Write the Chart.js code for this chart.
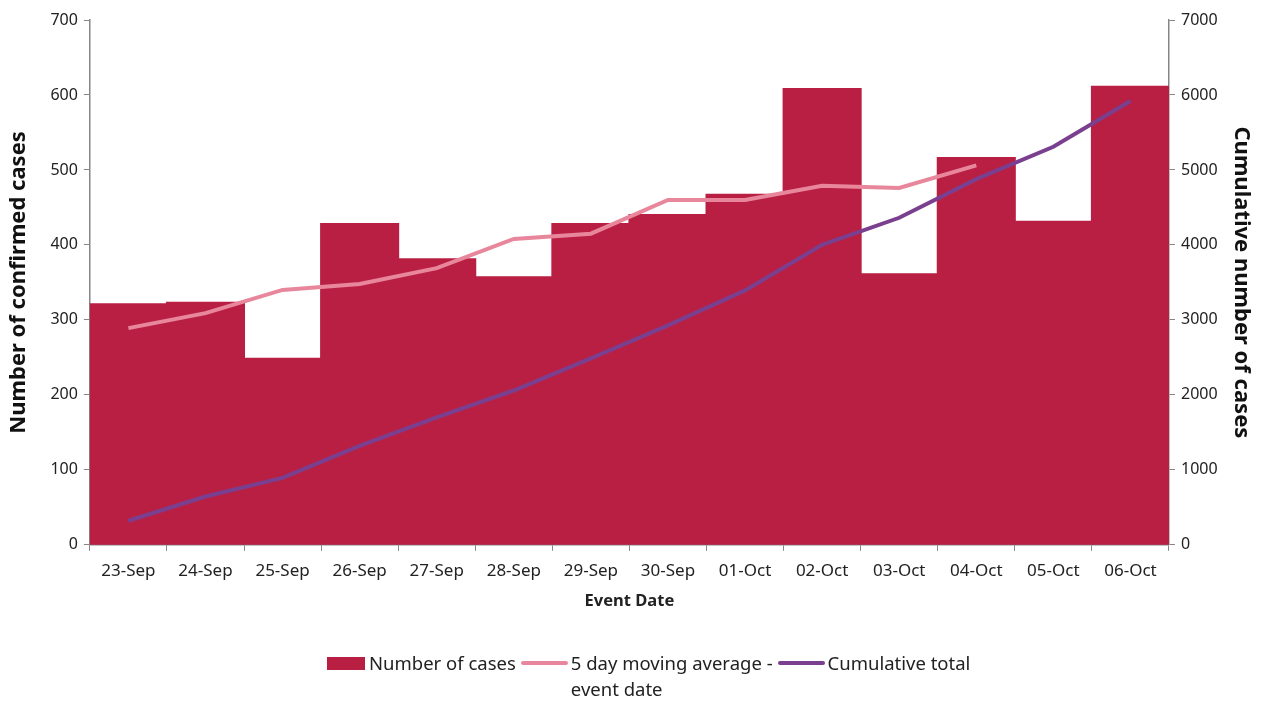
<!DOCTYPE html>
<html>
<head>
<meta charset="utf-8">
<script src="https://cdn.jsdelivr.net/npm/chart.js@4"></script>
<style>
  body { margin: 0; background: #fff; }
  #wrap { position: relative; width: 1272px; height: 704px; }
  #legend { position: absolute; top: 650px; left: 327px; display: flex; align-items: flex-start;
            font-family: "Noto Sans", sans-serif; font-size: 18.5px; color: #222; line-height: 26px; }
  .item { display: flex; align-items: flex-start; }
  .box { width: 38px; height: 13px; background: #b91f43; margin-top: 7px; margin-right: 4px; }
  .ln { width: 47px; height: 4px; border-radius: 2px; margin-top: 11px; margin-right: 3px; margin-left: 5px; }
</style>
</head>
<body>
<div id="wrap">
  <canvas id="myChart" width="1272" height="704"></canvas>
  <div id="legend">
    <div class="item"><div class="box"></div><span>Number of cases</span></div>
    <div class="item"><div class="ln" style="background:#e8879c"></div><span>5 day moving average -<br>event date</span></div>
    <div class="item"><div class="ln" style="background:#7b3f8f"></div><span>Cumulative total</span></div>
  </div>
</div>
<script>
const dates = ['23-Sep', '24-Sep', '25-Sep', '26-Sep', '27-Sep', '28-Sep', '29-Sep',
               '30-Sep', '01-Oct', '02-Oct', '03-Oct', '04-Oct', '05-Oct', '06-Oct'];
const cases = [321, 323, 248, 428, 381, 357, 428, 440, 467, 608, 361, 516, 431, 611];
const movingAvg = [289, 309, 340, 348, 369, 408, 415, 460, 460, 479, 476, 506, null, null];
const cumulative = [321, 644, 892, 1320, 1701, 2058, 2486, 2926, 3393, 4001, 4362, 4878, 5309, 5920];

const axisGrey = '#868686';
const font = 'Noto Sans';

const ctx = document.getElementById('myChart').getContext('2d');
const myChart = new Chart(ctx, {
    type: 'bar',
    data: {
        labels: dates,
        datasets: [{
            label: 'Number of cases',
            data: cases,
            backgroundColor: '#b91f43',
            barPercentage: 1,
            categoryPercentage: 1,
            inflateAmount: 1,
            yAxisID: 'y',
            order: 3
        }, {
            type: 'line',
            label: '5 day moving average - event date',
            data: movingAvg,
            borderColor: '#e8879c',
            borderWidth: 4,
            pointRadius: 0,
            tension: 0,
            yAxisID: 'y',
            order: 2
        }, {
            type: 'line',
            label: 'Cumulative total',
            data: cumulative,
            borderColor: '#7b3f8f',
            borderWidth: 4,
            pointRadius: 0,
            tension: 0,
            yAxisID: 'y2',
            order: 1
        }]
    },
    options: {
        responsive: false,
        animation: false,
        layout: { padding: { top: 20, left: 2, right: 0, bottom: 89 } },
        plugins: {
            legend: { display: false },
            tooltip: { enabled: false }
        },
        scales: {
            x: {
                offset: true,
                grid: { offset: true, drawOnChartArea: false, color: axisGrey, tickLength: 6 },
                border: { color: axisGrey, width: 1.5 },
                ticks: { color: '#222', font: { family: font, size: 17 }, padding: 10, maxRotation: 0 },
                title: { display: true, text: 'Event Date', color: '#222',
                         font: { family: font, size: 16.5, weight: 'bold' }, padding: { top: 0 } }
            },
            y: {
                position: 'left',
                min: 0, max: 700,
                grid: { drawOnChartArea: false, color: axisGrey, tickLength: 6 },
                border: { color: axisGrey, width: 1.5 },
                ticks: { stepSize: 100, color: '#222', font: { family: font, size: 16 }, padding: 6 },
                title: { display: true, text: 'Number of confirmed cases', color: '#111',
                         font: { family: font, size: 22, weight: 'bold' }, padding: { bottom: 12 } }
            },
            y2: {
                position: 'right',
                min: 0, max: 7000,
                grid: { drawOnChartArea: false, color: axisGrey, tickLength: 6 },
                border: { color: axisGrey, width: 1.5 },
                ticks: { stepSize: 1000, color: '#222', font: { family: font, size: 16 }, padding: 6,
                         callback: v => String(v) },
                title: { display: true, text: 'Cumulative number of cases', color: '#111',
                         font: { family: font, size: 22, weight: 'bold' }, padding: { top: 18 } }
            }
        }
    }
});
</script>
</body>
</html>
